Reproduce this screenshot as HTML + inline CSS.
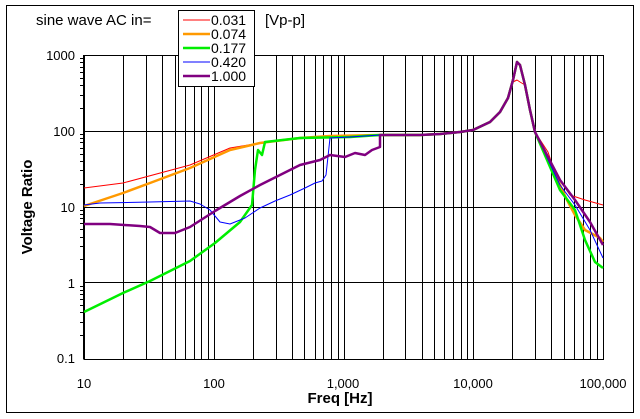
<!DOCTYPE html>
<html><head><meta charset="utf-8"><style>
body{margin:0;background:#fff}
svg{display:block;font-family:"Liberation Sans",sans-serif}
</style></head><body>
<svg id="s" width="640" height="419" xmlns="http://www.w3.org/2000/svg">
<rect x="0" y="0" width="640" height="419" fill="#fff"/>
<rect x="6.5" y="5.5" width="627" height="407" fill="none" stroke="#000" stroke-width="1"/>
<g id="grid"></g>
<g id="data" fill="none" stroke-linejoin="round"></g>
<text x="36" y="25" font-size="15">sine wave AC in=</text>
<text x="265" y="25" font-size="15">[Vp-p]</text>
<rect x="178.5" y="10.5" width="76" height="76" fill="#fff" stroke="#000"/>
<g font-size="14">
<line x1="183" y1="20" x2="210" y2="20" stroke="#f00" stroke-width="1"/><text x="211" y="25">0.031</text>
<line x1="183" y1="34" x2="210" y2="34" stroke="#ff9900" stroke-width="2.5"/><text x="211" y="39">0.074</text>
<line x1="183" y1="48" x2="210" y2="48" stroke="#00ee00" stroke-width="2.5"/><text x="211" y="53">0.177</text>
<line x1="183" y1="62" x2="210" y2="62" stroke="#0000ff" stroke-width="1"/><text x="211" y="67">0.420</text>
<line x1="183" y1="76" x2="210" y2="76" stroke="#800080" stroke-width="2.5"/><text x="211" y="81">1.000</text>
</g>
<g font-size="13" text-anchor="end">
<text x="75" y="60">1000</text><text x="75" y="136">100</text><text x="75" y="212">10</text><text x="75" y="288">1</text><text x="75" y="363">0.1</text>
</g>
<g font-size="13" text-anchor="middle">
<text x="84" y="388">10</text><text x="214" y="388">100</text><text x="343" y="388">1,000</text><text x="473" y="388">10,000</text><text x="603" y="388">100,000</text>
</g>
<text x="340" y="403" font-size="15" font-weight="bold" text-anchor="middle">Freq [Hz]</text>
<text transform="translate(32,207) rotate(-90)" font-size="15" font-weight="bold" text-anchor="middle">Voltage Ratio</text>
</svg>
<script>
var ns="http://www.w3.org/2000/svg",g=document.getElementById('grid'),d=document.getElementById('data');
function L(x1,y1,x2,y2,w){var l=document.createElementNS(ns,'line');l.setAttribute('x1',x1);l.setAttribute('y1',y1);l.setAttribute('x2',x2);l.setAttribute('y2',y2);l.setAttribute('stroke','#000');l.setAttribute('stroke-width',w||1);g.appendChild(l);}
var X0=84,DX=129.75,Y0=55,DY=75.75;
for(var dcd=0;dcd<4;dcd++)for(var k=1;k<10;k++){var x=Math.round(X0+(dcd+Math.log10(k))*DX)+0.5;L(x,Y0,x,359);}
L(603.5,Y0,603.5,359);
for(var dcd=0;dcd<4;dcd++){var y=Math.round(Y0+dcd*DY)+0.5;L(X0,y,604,y);for(var k=2;k<10;k++){var yy=Math.round(Y0+(dcd+1-Math.log10(k))*DY)+0.5;L(X0-4,yy,X0,yy);}}
L(X0-0.5,Y0,X0-0.5,359.5);L(X0,359.5,604,359.5);
var tail=[[380,135],[420,135],[440,134],[460,132],[473,130],[490,122],[500,112],[508,98],[513,80],[517,62],[520,65],[525,85],[530,110],[535,132]];
function P(pts,c,w){var p=document.createElementNS(ns,'polyline');p.setAttribute('points',pts.map(function(a){return a.join(',')}).join(' '));p.setAttribute('stroke',c);p.setAttribute('stroke-width',w);d.appendChild(p);}
var redTail=tail.map(function(a){return a[0]==517?[517,80]:(a[0]==520?[520,82]:(a[0]==513?[513,82]:a));});
P([[84,188],[123,183],[190,165],[230,148],[260,143],[300,138],[330,136]].concat(redTail,[[548,152],[555,173],[570,195],[585,200],[603,205]]),'#f00',1);
P([[84,206],[123,193],[150,183],[190,168],[230,150],[260,143],[300,138],[330,136]].concat(tail,[[548,160],[560,185],[567,200],[575,215],[585,230],[600,238],[603,242]]),'#ff9900',2.5);
P([[84,312],[123,293],[150,281],[190,261],[215,243],[240,222],[252,205],[255,170],[258,150],[262,155],[265,142],[300,138],[350,137]].concat(tail,[[560,190],[575,210],[585,240],[595,262],[603,268]]),'#00ee00',2.5);
P([[84,205],[100,203],[150,202],[190,201],[200,204],[210,210],[220,222],[230,224],[245,218],[260,208],[275,201],[290,195],[305,188],[315,183],[322,181],[326,175],[330,138],[350,137]].concat(tail,[[560,185],[575,205],[590,230],[603,258]]),'#0000ff',1);
P([[84,224],[110,224],[140,226],[150,227],[160,233],[175,233],[190,227],[215,211],[240,196],[260,185],[280,175],[300,165],[320,160],[330,155],[345,157],[355,153],[365,155],[372,150],[380,147],[380,136]].concat(tail,[[560,180],[575,200],[590,222],[603,245]]),'#800080',2.5);
</script>
</body></html>
